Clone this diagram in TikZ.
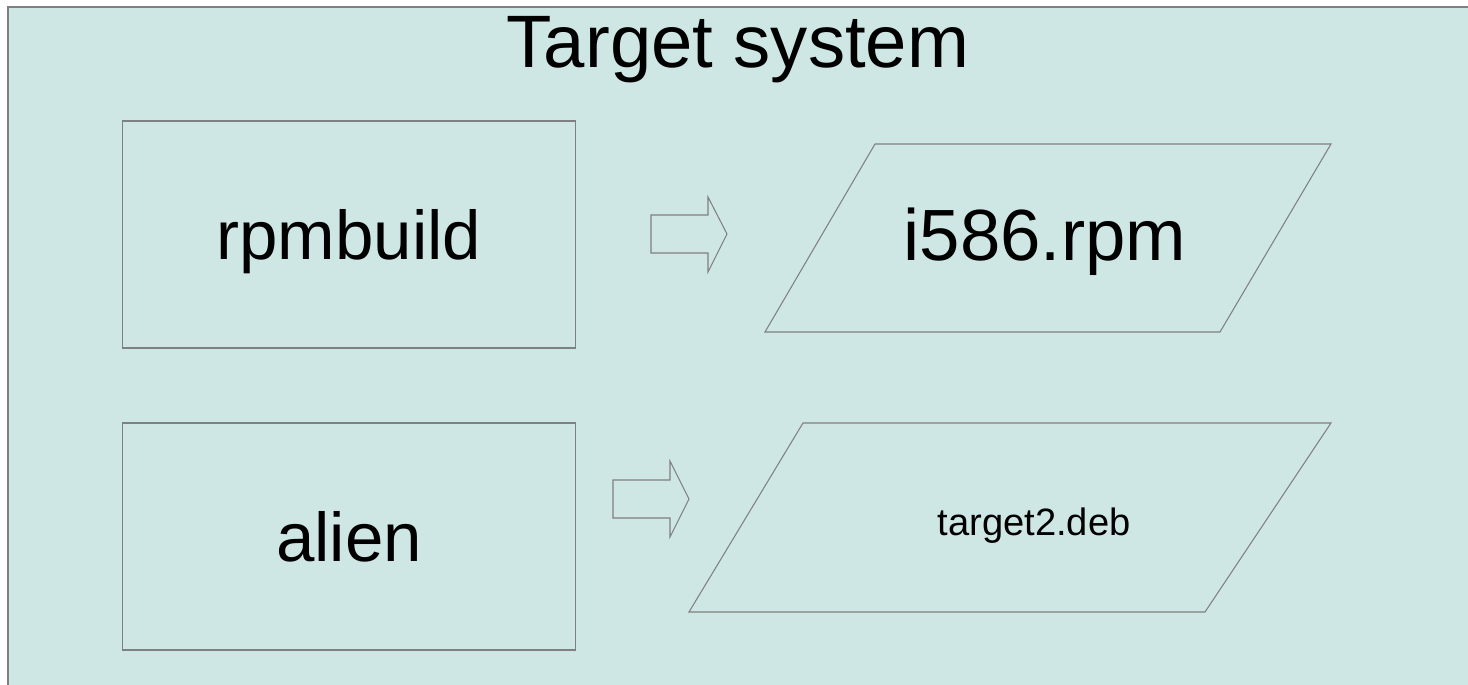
\documentclass[tikz,border=0pt]{standalone}
\usepackage{fontspec}
\setmainfont{Liberation Sans}
\usetikzlibrary{positioning}
\definecolor{panelbg}{RGB}{207, 231, 228}
\definecolor{edgegray}{RGB}{128, 128, 128}

\begin{document}
\begin{tikzpicture}[x=0.02cm, y=-0.02cm,
    toolbox/.style={draw=edgegray, line width=0.6pt, minimum width=9.08cm, minimum height=4.54cm, text depth=0pt, font=\fontsize{39.3}{48}\selectfont},
    pkgshape/.style={draw=edgegray, line width=0.6pt},
    blockarrow/.style={draw=edgegray, line width=0.6pt}]
    \useasboundingbox (0,0) rectangle (1468,685);
    % Panel
    \fill[panelbg] (8,7) rectangle (1468,685);
    \draw[edgegray, line width=0.8pt] (8,685) -- (8,7) -- (1468,7);
    \node[font=\fontsize{42.3}{50}\selectfont] (title) at (738,50) {Target system};

    % Tools
    \node[toolbox] (rpmbuild) at (349,234.5) {rpmbuild};
    \node[toolbox] (alien) at (349,536.5) {alien};

    % Packages
    \draw[pkgshape] (875,144) -- (1331,144) -- (1220,332) -- (765,332) -- cycle;
    \node[font=\fontsize{41.3}{50}\selectfont] (rpm) at (1045,242) {i586.rpm};
    \draw[pkgshape] (803,423) -- (1331,423) -- (1205,612) -- (689,612) -- cycle;
    \node[font=\fontsize{21.7}{26}\selectfont] (deb) at (1034,526) {target2.deb};

    % Block arrows
    \draw[blockarrow] (651,215) -- (708,215) -- (708,197) -- (727,234) -- (708,272) -- (708,253) -- (651,253) -- cycle;
    \draw[blockarrow] (613,480) -- (670,480) -- (670,461) -- (689,499) -- (670,537) -- (670,518) -- (613,518) -- cycle;
\end{tikzpicture}
\end{document}
